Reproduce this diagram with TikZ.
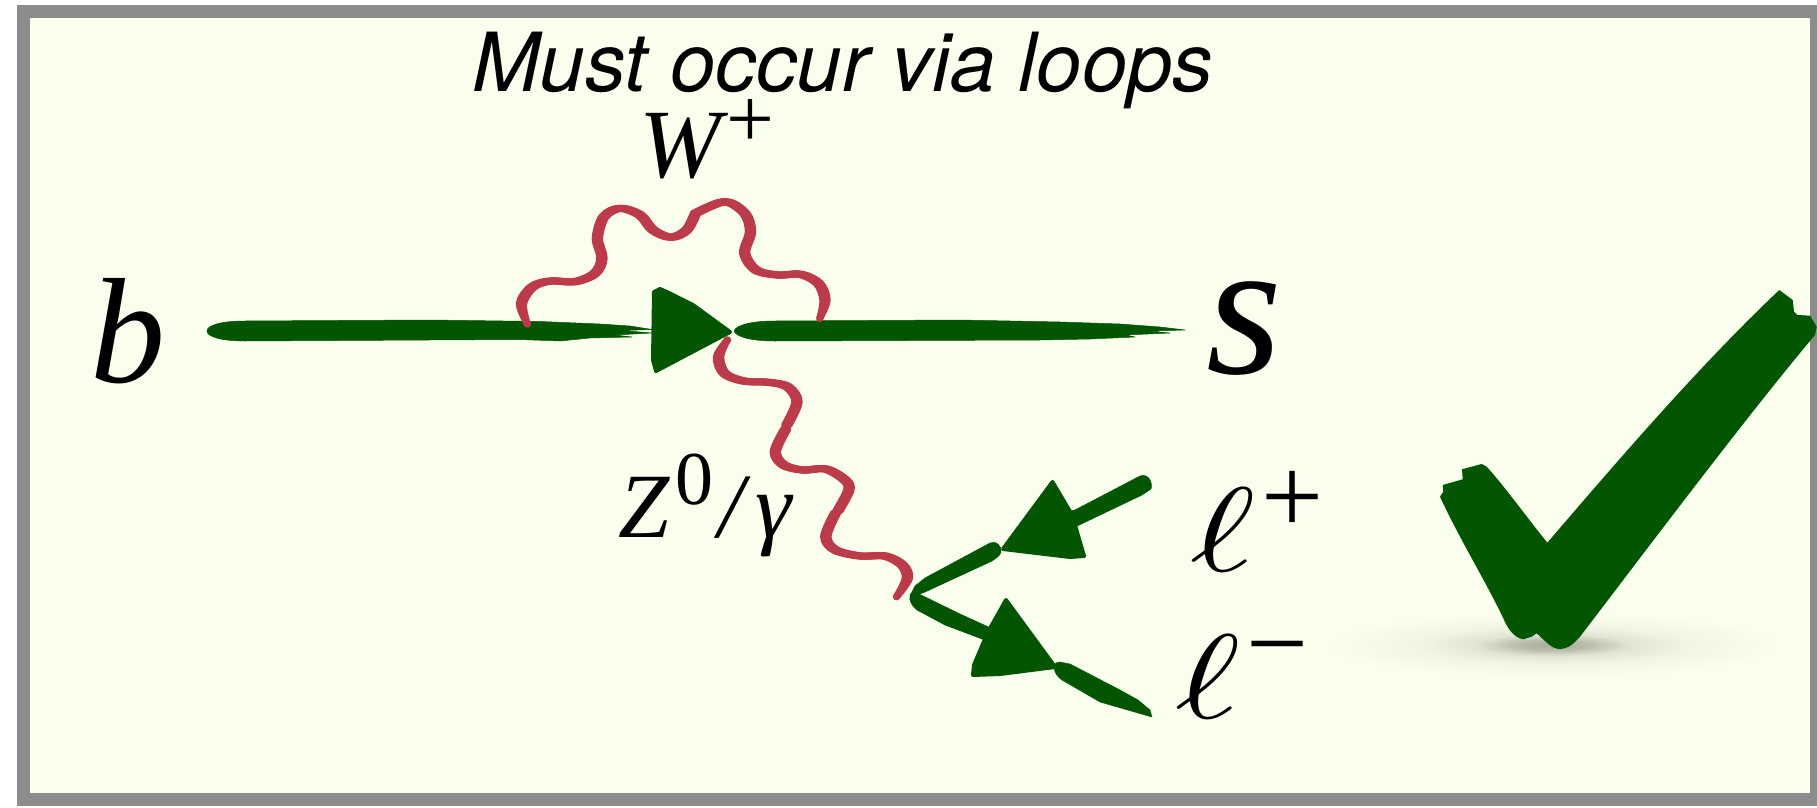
\documentclass[tikz,border=0pt]{standalone}
\usepackage{fontspec}
\usepackage{graphicx}
\setmainfont{Liberation Serif}
\newfontfamily\hvfont{TeX Gyre Heros}
\definecolor{bgc}{HTML}{F9FFEC}
\definecolor{framec}{HTML}{8C8C8C}
\definecolor{fermc}{HTML}{025602}
\definecolor{wavec}{HTML}{BD3A49}
\definecolor{shA}{HTML}{A8AD9C}
\definecolor{shB}{HTML}{B9BDAC}
\definecolor{shC}{HTML}{E0E4D3}
\definecolor{shD}{HTML}{F1F6E4}
\pgfdeclareradialshading{shadowsh}{\pgfpoint{0bp}{0bp}}{color(0bp)=(shA); color(4bp)=(shB); color(8.5bp)=(shC); color(15bp)=(shD); color(25bp)=(bgc); color(50bp)=(bgc)}
\newcommand{\szt}[2]{{\fontsize{#1}{#1}\selectfont #2}}
\newcommand{\elltxt}{\scalebox{15.6}[12]{$\ell$}}
% a wave stroke: three offset passes give the broad-nib look (thick uprights, thin horizontals)
\newcommand{\wavestroke}[1]{\foreach \dx in {-2.2,0,2.2}{\draw[wave,shift={(\dx,0)}] plot[smooth,tension=0.55] coordinates {#1};}}
\tikzset{
  wave/.style={draw=wavec,line width=7pt,line cap=round,line join=round},
  ferm/.style={fill=fermc,draw=fermc,line width=0.5pt,line join=round},
  tri/.style={fill=fermc,draw=fermc,line width=4pt,line join=round},
  lab/.style={anchor=base west,inner sep=0pt,outer sep=0pt,text=black}
}
\begin{document}
\begin{tikzpicture}[x=1pt,y=-1pt]
\useasboundingbox (0,0) rectangle (1817,808);
\fill[white] (0,0) rectangle (1817,808);
\fill[framec] (17,5) rectangle (1817,806);
\fill[bgc] (30,18) rectangle (1810,793);
% coordinates
\coordinate (qA) at (207,331);
\coordinate (tipL) at (732,332);
\coordinate (qB) at (734,331);
\coordinate (qC) at (1185,330);
\coordinate (vtx) at (910,596);
\coordinate (wS) at (527.3,324);
\coordinate (wE) at (819.8,318.3);
\coordinate (zS) at (727.4,340);
\coordinate (zE) at (896.6,596.7);
% labels
\node[lab,font=\hvfont\itshape] (must) at (472,92) {\szt{81.5}{Must occur via loops}};
\node[lab] (wlab) at (639,177) {\szt{98}{\textit{W}}\kern-2pt\raisebox{30pt}{\szt{85}{+}}};
\node[lab] (b) at (90,382) {\szt{150}{\textit{b}}};
\node[lab] (s) at (1206,373) {\szt{195}{\textit{s}}};
\node[lab] (zlab) at (618,537) {\szt{92}{\textit{Z}}\kern6pt\raisebox{33pt}{\szt{76}{0}}\kern5pt\szt{92}{\textit{/}}\kern4pt\szt{92}{\textit{γ}}};
\node[lab] (lp) at (1190,571) {\elltxt\kern6pt\raisebox{38pt}{\szt{110}{+}}};
\node[lab] (lm) at (1175,718) {\elltxt\kern6pt\raisebox{38pt}{\szt{110}{−}}};
% shadow
\shade[shading=shadowsh] (1553,645) ellipse (225 and 32);
% b quark line
\path[ferm] (qA) .. controls (207,325) and (222,321) .. (245,321) -- (430,320) -- (540,321.5)
  -- (600,324) -- (630,326) -- (652,329.5) -- (622,330.5) -- (652,333) -- (615,335) -- (632,337) -- (590,338)
  -- (560,341) -- (520,339.5) -- (245,341) .. controls (222,341) and (207,337) .. (qA) -- cycle;
% s quark line
\path[ferm] (qB) .. controls (736,325) and (752,321) .. (775,321) -- (960,320) -- (1060,322)
  -- (1120,324) -- (1160,327) -- (1185,330) -- (1150,331) -- (1170,333) -- (1125,335) -- (1135,337) -- (1090,339) -- (1040,340)
  -- (775,341) .. controls (752,341) and (736,337) .. (qB) -- cycle;
% vertex triangle
\path[tri] (654,292) -- (660,289) -- (667,292) -- (693,305) -- (730,332) -- (692,352) -- (656,371) -- (653,360) -- cycle;
% W loop
\wavestroke{(wS) (521.5,303.3) (532.7,286.7) (550.5,281) (575,281.7) (595,273.3) (602,258.3) (597.4,238.3) (604,216.7) (620,208.3) (640,215) (653,230) (671,237.3) (686.7,230) (695.6,213.3)}
\wavestroke{(695.6,213.3) (724.6,201.7) (744.7,213.3) (750.5,231.7) (744.7,253.3) (756,270) (778,275) (800.5,274.3) (818.4,283.3) (825,300) (wE)}
% Z wave
\wavestroke{(zS) (718.6,356.7) (724.4,373.3) (743.5,381) (768.4,382.3) (787.5,386.7) (797,401.7) (786.8,425)}
\wavestroke{(785.6,429.3) (775.3,451.7) (783.7,465) (802.8,470) (825.8,469) (845,480) (848.8,490) (838,510.7)}
\wavestroke{(835.4,513.3) (825.8,536.7) (835.4,550) (860.2,556) (885,556) (902.3,565) (907.3,578.3) (zE)}
% l+ line: vertex side
\path[ferm] (vtx) -- (915,586) -- (925,578) -- (990,543) .. controls (996,540) and (1002,546) .. (1001,552)
  .. controls (1000,556) and (996,558) .. (992,561) -- (925,592) -- (917,595) -- cycle;
\path[tri] (1003,549) -- (1052.5,482) -- (1072,515) -- (1084,556) -- (1070,557) -- cycle;
\path[ferm] (1062,512) -- (1075,510) -- (1140,476) .. controls (1148,473) and (1153,482) .. (1151,489) -- (1142,495) -- (1075,527) -- (1068,535) -- cycle;
% l- line: vertex side
\path[ferm] (vtx) .. controls (910,592) and (914,592) .. (918,593.5) -- (960,614) -- (995,630) -- (990,642) -- (945,625) -- (917,610) .. controls (912,606) and (909,601) .. (vtx) -- cycle;
\path[tri] (1006,600) -- (1055,667) -- (1000,674) -- (973,675) -- (974,665) -- (988,632) -- cycle;
\path[ferm] (1060,662) .. controls (1050,662) and (1054,675) .. (1062,680) -- (1100,702) -- (1152,717) -- (1150,710) -- (1138,700) -- (1120,690) -- (1070,664) -- cycle;
% check mark
\fill[fermc] (1440,496.7) -- (1443.3,491.7) -- (1442.7,485) -- (1462.7,479.3) -- (1462,469.3) -- (1481.7,464)
 -- (1486.7,466.7) .. controls (1505,487) and (1525,515) .. (1547.3,542.7) .. controls (1620,458) and (1700,365) .. (1779.3,290)
 -- (1792.7,300) -- (1794,311.7) -- (1797.3,315) -- (1810,315.7) -- (1816.7,326.7) -- (1815,335)
 .. controls (1750,412) and (1650,545) .. (1580,636.7) .. controls (1570,648) and (1565,649) .. (1558.3,649)
 .. controls (1552,648) and (1548,644) .. (1536.7,633.3) -- (1531.7,636.7) -- (1523.3,639.3) .. controls (1515,638) and (1508,630) .. (1503.3,618.3)
 .. controls (1485,580) and (1460,540) .. (1440,496.7) -- cycle;
\end{tikzpicture}
\end{document}
